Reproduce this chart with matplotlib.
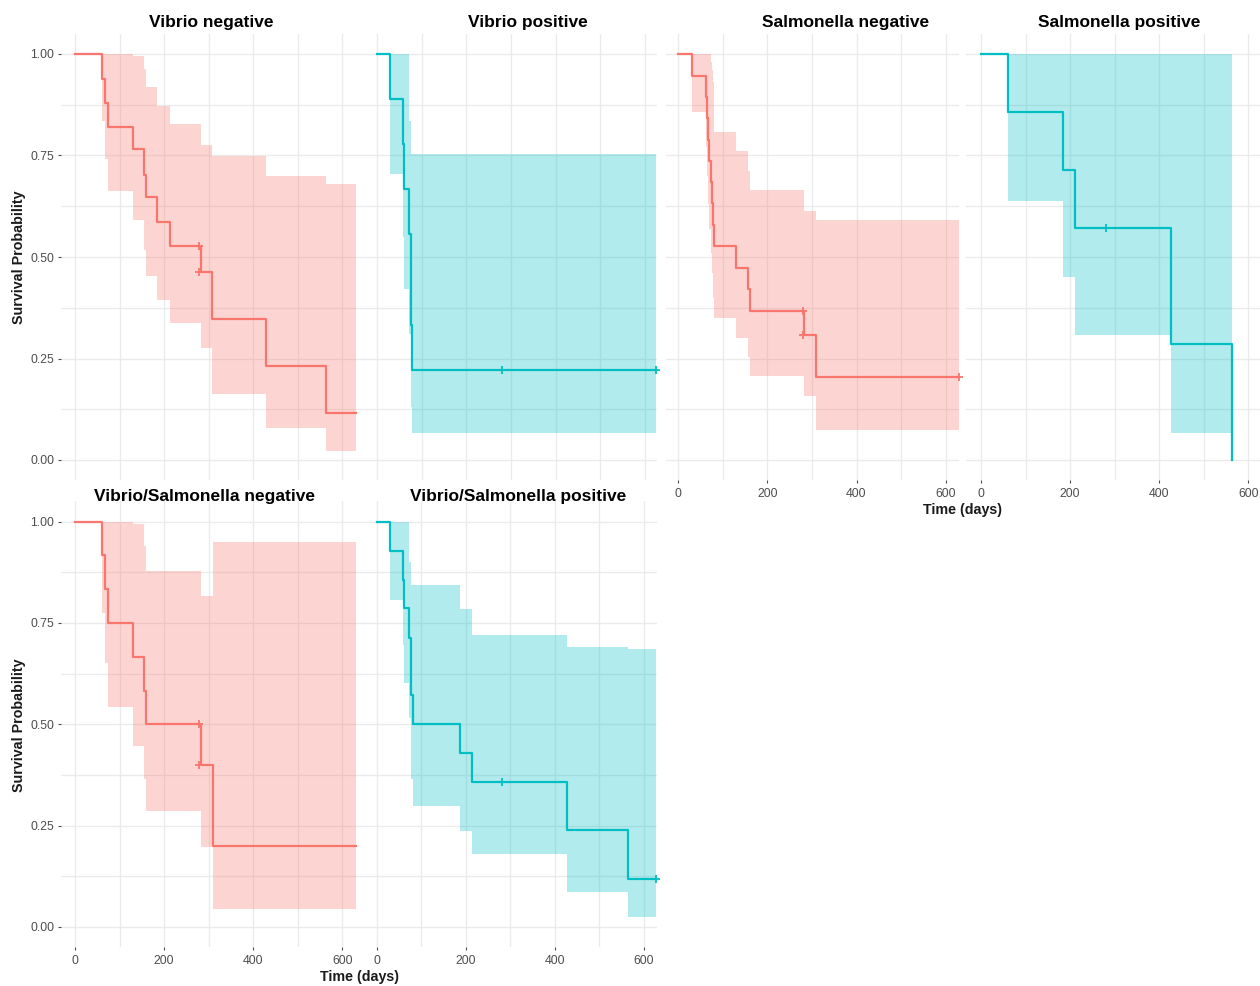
import matplotlib
matplotlib.use("Agg")
import matplotlib.pyplot as plt
from matplotlib.ticker import MultipleLocator

plt.rcParams['font.family'] = ['Liberation Sans', 'DejaVu Sans']

RED = '#F8766D'
CYAN = '#00BFC4'

# ---- Kaplan-Meier estimates (time in days) ----
# Vibrio negative
vn_time = [0, 61, 67, 75, 130, 156, 159, 183, 213, 283, 308, 428, 563]
vn_surv = [1.0, 0.939, 0.880, 0.821, 0.765, 0.702, 0.647, 0.587, 0.528, 0.463, 0.347, 0.231, 0.116]
vn_upper = [1.0, 1.0, 1.0, 1.0, 0.994, 0.964, 0.918, 0.873, 0.828, 0.776, 0.748, 0.700, 0.681]
vn_lower = [1.0, 0.836, 0.742, 0.662, 0.590, 0.518, 0.454, 0.395, 0.337, 0.276, 0.163, 0.078, 0.021]
vn_end = 631
vn_cens_time = [279, 279]
vn_cens_surv = [0.528, 0.463]

# Vibrio positive
vp_time = [0, 28, 58, 60, 72, 76, 79]
vp_surv = [1.0, 0.889, 0.778, 0.667, 0.556, 0.333, 0.222]
vp_upper = [1.0, 1.0, 1.0, 1.0, 0.836, 0.754, 0.754]
vp_lower = [1.0, 0.705, 0.549, 0.422, 0.311, 0.130, 0.066]
vp_end = 626
vp_cens_time = [281, 626]
vp_cens_surv = [0.222, 0.222]

# Salmonella negative
sn_time = [0, 30, 62, 64, 67, 70, 73, 75, 78, 80, 130, 156, 160, 283, 308]
sn_surv = [1.0, 0.947, 0.895, 0.842, 0.789, 0.737, 0.684, 0.632, 0.579, 0.526, 0.474, 0.421, 0.368, 0.307, 0.205]
sn_upper = [1.0, 1.0, 1.0, 1.0, 1.0, 1.0, 0.98, 0.96, 0.93, 0.807, 0.762, 0.713, 0.665, 0.614, 0.590]
sn_lower = [1.0, 0.857, 0.77, 0.70, 0.63, 0.57, 0.51, 0.46, 0.40, 0.349, 0.300, 0.253, 0.208, 0.157, 0.075]
sn_end = 630
sn_cens_time = [279, 279, 630]
sn_cens_surv = [0.368, 0.307, 0.205]

# Salmonella positive
sp_time = [0, 60, 185, 212, 426, 564]
sp_surv = [1.0, 0.857, 0.714, 0.571, 0.286, 0.0]
sp_upper = [1.0, 1.0, 1.0, 1.0, 1.0, 0.0]
sp_lower = [1.0, 0.637, 0.450, 0.307, 0.066, 0.0]
sp_end = 564
sp_cens_time = [280]
sp_cens_surv = [0.571]

# Vibrio/Salmonella negative
vsn_time = [0, 61, 68, 75, 131, 155, 160, 283, 309]
vsn_surv = [1.0, 0.917, 0.833, 0.750, 0.667, 0.583, 0.500, 0.400, 0.200]
vsn_upper = [1.0, 1.0, 1.0, 1.0, 0.994, 0.941, 0.879, 0.817, 0.951]
vsn_lower = [1.0, 0.774, 0.650, 0.543, 0.447, 0.364, 0.286, 0.198, 0.045]
vsn_end = 631
vsn_cens_time = [279, 279]
vsn_cens_surv = [0.500, 0.400]

# Vibrio/Salmonella positive
vsp_time = [0, 29, 59, 62, 73, 77, 81, 186, 213, 428, 563]
vsp_surv = [1.0, 0.929, 0.857, 0.786, 0.714, 0.571, 0.500, 0.429, 0.357, 0.238, 0.119]
vsp_upper = [1.0, 1.0, 1.0, 1.0, 0.901, 0.844, 0.844, 0.784, 0.720, 0.691, 0.685]
vsp_lower = [1.0, 0.807, 0.696, 0.601, 0.515, 0.365, 0.298, 0.236, 0.179, 0.085, 0.023]
vsp_end = 627
vsp_cens_time = [282, 627]
vsp_cens_surv = [0.357, 0.119]

titles = ["Vibrio negative", "Vibrio positive", "Salmonella negative",
          "Salmonella positive", "Vibrio/Salmonella negative",
          "Vibrio/Salmonella positive"]

panels = [
    (vn_time, vn_surv, vn_upper, vn_lower, vn_end, vn_cens_time, vn_cens_surv, RED),
    (vp_time, vp_surv, vp_upper, vp_lower, vp_end, vp_cens_time, vp_cens_surv, CYAN),
    (sn_time, sn_surv, sn_upper, sn_lower, sn_end, sn_cens_time, sn_cens_surv, RED),
    (sp_time, sp_surv, sp_upper, sp_lower, sp_end, sp_cens_time, sp_cens_surv, CYAN),
    (vsn_time, vsn_surv, vsn_upper, vsn_lower, vsn_end, vsn_cens_time, vsn_cens_surv, RED),
    (vsp_time, vsp_surv, vsp_upper, vsp_lower, vsp_end, vsp_cens_time, vsp_cens_surv, CYAN),
]

# ---- layout (pixels) ----
W, H = 1260, 986
fig = plt.figure(figsize=(W / 100, H / 100), dpi=100)
fig.patch.set_facecolor('white')

SCALE = 0.4455  # pixels per day
# (left, right, top, bottom, x-position of day 0, show x labels, show y labels,
#  title centre x, title centre y)
boxes = [
    (61, 363, 33.7, 480.3, 75.0, False, True, 211, 22),
    (363, 657, 33.7, 480.3, 377.3, False, False, 528, 22),
    (666, 959, 33.7, 480.3, 678.3, True, False, 846, 22),
    (966, 1260, 33.7, 480.3, 981.0, True, False, 1119, 22),
    (61, 363, 501.5, 947.0, 75.0, True, True, 205, 497),
    (363, 657, 501.5, 947.0, 376.7, True, False, 518, 497),
]

GRID = '#ebebeb'
TICK_COL = '#4d4d4d'

for (t, s, up, lo, end, ct, cs, col), box, title in zip(panels, boxes, titles):
    left, right, top, bottom, zero, xlab, ylab, tx, ty = box
    ax = fig.add_axes([left / W, 1 - bottom / H, (right - left) / W, (bottom - top) / H])
    ax.set_facecolor('white')
    ax.set_xlim((left - zero) / SCALE, (right - zero) / SCALE)
    ax.set_ylim(-0.05, 1.05)
    for sp in ax.spines.values():
        sp.set_visible(False)

    ax.xaxis.set_major_locator(MultipleLocator(200))
    ax.xaxis.set_minor_locator(MultipleLocator(100))
    ax.yaxis.set_major_locator(MultipleLocator(0.25))
    ax.yaxis.set_minor_locator(MultipleLocator(0.125))
    ax.grid(True, which='both', color=GRID, linewidth=1.0, zorder=0)
    ax.set_axisbelow(True)

    ax.tick_params(which='minor', length=0)
    if xlab:
        ax.tick_params(axis='x', which='major', length=2.5, width=0.8, color=TICK_COL,
                       labelcolor=TICK_COL, labelsize=8.8, pad=3)
    else:
        ax.tick_params(axis='x', which='major', length=0, labelbottom=False)
    if ylab:
        ax.set_yticks([0, 0.25, 0.5, 0.75, 1.0])
        ax.set_yticklabels(['0.00', '0.25', '0.50', '0.75', '1.00'])
        ax.tick_params(axis='y', which='major', length=2.5, width=0.8, color=TICK_COL,
                       labelcolor=TICK_COL, labelsize=8.8, pad=2.5)
    else:
        ax.tick_params(axis='y', which='major', length=0, labelleft=False)

    xs = list(t) + [end]
    ax.fill_between(xs, list(lo) + [lo[-1]], list(up) + [up[-1]], step='post',
                    color=col, alpha=0.3, linewidth=0, zorder=2)
    ax.step(xs, list(s) + [s[-1]], where='post', color=col, linewidth=1.6, zorder=3)
    ax.plot(ct, cs, linestyle='none', marker='+', markersize=6, markeredgewidth=1.3,
            color=col, zorder=4, clip_on=False)

    fig.text(tx / W, 1 - ty / H, title, ha='center', va='center',
             fontsize=12.5, fontweight='bold', color='black')

# axis titles
for yc in (257, 725):
    fig.text(19 / W, 1 - yc / H, 'Survival Probability', rotation=90, ha='center',
             va='center', fontsize=10.3, fontweight='bold', color='#1a1a1a')
fig.text(963 / W, 1 - 510 / H, 'Time (days)', ha='center', va='center',
         fontsize=10.3, fontweight='bold', color='#1a1a1a')
fig.text(359 / W, 1 - 977 / H, 'Time (days)', ha='center', va='center',
         fontsize=10.3, fontweight='bold', color='#1a1a1a')

fig.savefig('out.png', dpi=100, facecolor='white')
